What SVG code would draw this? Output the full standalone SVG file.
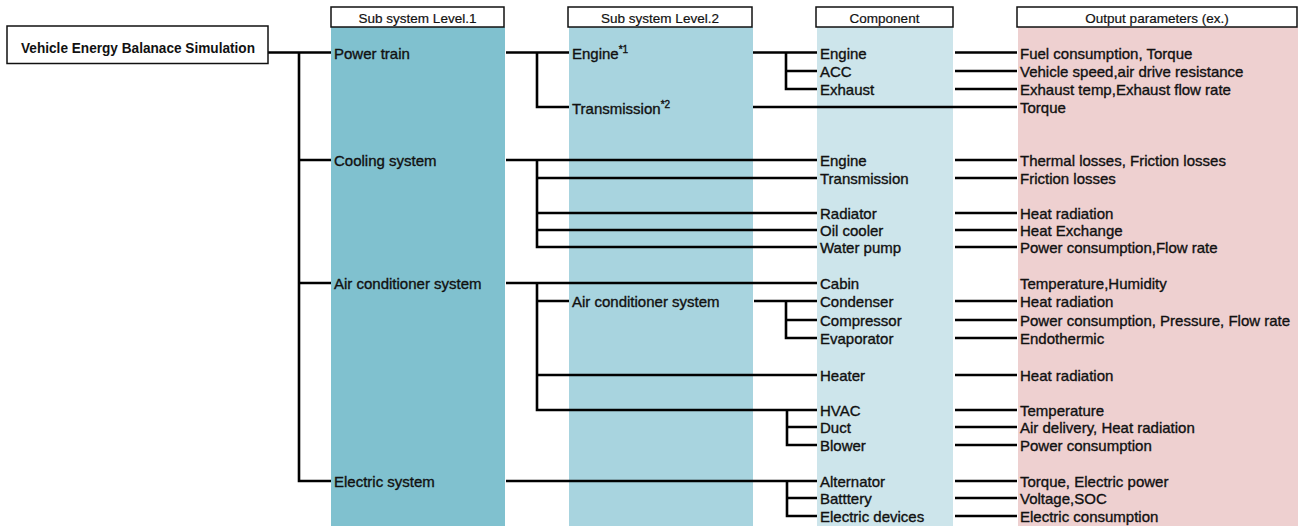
<svg xmlns="http://www.w3.org/2000/svg" width="1303" height="527" viewBox="0 0 1303 527">
<style>
.t{font-family:"Liberation Sans",Arial,sans-serif;font-size:15px;fill:#111;stroke:#111;stroke-width:0.35}
.h{font-family:"Liberation Sans",Arial,sans-serif;font-size:13.5px;fill:#111;stroke:#111;stroke-width:0.2;text-anchor:middle}
.hb{fill:#fff;stroke:#111;stroke-width:1.5}
.c{stroke:#000;stroke-width:2.6;fill:none;stroke-linecap:butt}
</style>
<rect width="1303" height="527" fill="#fff"/>
<g id="columns">
<rect x="331" y="27" width="174" height="499" fill="#80c1cf"/>
<rect x="569" y="27" width="184" height="499" fill="#a8d4df"/>
<rect x="817" y="27" width="136" height="499" fill="#cde5eb"/>
<rect x="1018" y="27" width="280" height="499" fill="#eed0d0"/>
</g>
<g id="headers">
<g id="h1"><rect class="hb" x="331" y="7" width="173" height="20"/><text class="h" x="417.5" y="22.5">Sub system Level.1</text></g>
<g id="h2"><rect class="hb" x="568" y="7" width="184" height="20"/><text class="h" x="660" y="22.5">Sub system Level.2</text></g>
<g id="h3"><rect class="hb" x="816" y="7" width="137" height="20"/><text class="h" x="884.5" y="22.5">Component</text></g>
<g id="h4"><rect class="hb" x="1017" y="7" width="280" height="20"/><text class="h" x="1157" y="22.5">Output parameters (ex.)</text></g>
</g>
<g id="connectors">
<path class="c" d="M268 52.5H331M299 52.5V481H331M299 160H331M299 283H331"/>
<path class="c" d="M506 52.5H569M537 52.5V107H569M753 52.5H817M786 52.5V89H817M786 71H817M753 107H1017"/>
<path class="c" d="M506 160H817M537 160V247H817M537 178H817M537 213H817M537 230H817"/>
<path class="c" d="M506 283H817M537 283V410H817M537 301H569M537 375H817M754 301H817M786 301V338H817M786 320H817M787 410V445H817M787 427H817"/>
<path class="c" d="M506 481H817M787 481V516H817M787 498H817"/>
<path class="c" d="M955 52.5H1017M955 71H1017M955 89H1017M955 160H1017M955 178H1017M955 213H1017M955 230H1017M955 247H1017M955 301H1017M955 320H1017M955 338H1017M955 375H1017M955 410H1017M955 427H1017M955 445H1017M955 481H1017M955 498H1017M955 516H1017"/>
</g>
<g id="root"><rect class="hb" x="7" y="26" width="261" height="37.5"/><text class="t" x="21" y="53" textLength="234" lengthAdjust="spacingAndGlyphs" style="font-size:15.5px;font-weight:bold;stroke-width:0">Vehicle Energy Balanace Simulation</text></g>
<g id="level1">
<g id="l1-powertrain"><text class="t" x="334" y="59">Power train</text></g>
<g id="l1-cooling"><text class="t" x="334" y="166">Cooling system</text></g>
<g id="l1-ac"><text class="t" x="334" y="289">Air conditioner system</text></g>
<g id="l1-electric"><text class="t" x="334" y="487">Electric system</text></g>
</g>
<g id="level2">
<g id="l2-engine"><text class="t" x="572" y="59">Engine<tspan font-size="10" dy="-6">*1</tspan></text></g>
<g id="l2-transmission"><text class="t" x="572" y="114">Transmission<tspan font-size="10" dy="-6">*2</tspan></text></g>
<g id="l2-ac"><text class="t" x="572" y="307">Air conditioner system</text></g>
</g>
<g id="components">
<g id="c-engine"><text class="t" x="820" y="59">Engine</text></g>
<g id="c-acc"><text class="t" x="820" y="77">ACC</text></g>
<g id="c-exhaust"><text class="t" x="820" y="95">Exhaust</text></g>
<g id="c-engine2"><text class="t" x="820" y="166">Engine</text></g>
<g id="c-transmission"><text class="t" x="820" y="184">Transmission</text></g>
<g id="c-radiator"><text class="t" x="820" y="219">Radiator</text></g>
<g id="c-oilcooler"><text class="t" x="820" y="236">Oil cooler</text></g>
<g id="c-waterpump"><text class="t" x="820" y="253">Water pump</text></g>
<g id="c-cabin"><text class="t" x="820" y="289">Cabin</text></g>
<g id="c-condenser"><text class="t" x="820" y="307">Condenser</text></g>
<g id="c-compressor"><text class="t" x="820" y="326">Compressor</text></g>
<g id="c-evaporator"><text class="t" x="820" y="344">Evaporator</text></g>
<g id="c-heater"><text class="t" x="820" y="381">Heater</text></g>
<g id="c-hvac"><text class="t" x="820" y="416">HVAC</text></g>
<g id="c-duct"><text class="t" x="820" y="433">Duct</text></g>
<g id="c-blower"><text class="t" x="820" y="451">Blower</text></g>
<g id="c-alternator"><text class="t" x="820" y="487"> Alternator</text></g>
<g id="c-battery"><text class="t" x="820" y="504">Batttery</text></g>
<g id="c-devices"><text class="t" x="820" y="522">Electric devices</text></g>
</g>
<g id="outputs">
<g id="o1"><text class="t" x="1020" y="59">Fuel consumption, Torque</text></g>
<g id="o2"><text class="t" x="1020" y="77">Vehicle speed,air drive resistance</text></g>
<g id="o3"><text class="t" x="1020" y="95">Exhaust temp,Exhaust flow rate</text></g>
<g id="o4"><text class="t" x="1020" y="113">Torque</text></g>
<g id="o5"><text class="t" x="1020" y="166">Thermal losses, Friction losses</text></g>
<g id="o6"><text class="t" x="1020" y="184">Friction losses</text></g>
<g id="o7"><text class="t" x="1020" y="219">Heat radiation</text></g>
<g id="o8"><text class="t" x="1020" y="236">Heat Exchange</text></g>
<g id="o9"><text class="t" x="1020" y="253">Power consumption,Flow rate</text></g>
<g id="o10"><text class="t" x="1020" y="289">Temperature,Humidity</text></g>
<g id="o11"><text class="t" x="1020" y="307">Heat radiation</text></g>
<g id="o12"><text class="t" x="1020" y="326">Power consumption, Pressure, Flow rate</text></g>
<g id="o13"><text class="t" x="1020" y="344">Endothermic</text></g>
<g id="o14"><text class="t" x="1020" y="381">Heat radiation</text></g>
<g id="o15"><text class="t" x="1020" y="416">Temperature</text></g>
<g id="o16"><text class="t" x="1020" y="433">Air delivery, Heat radiation</text></g>
<g id="o17"><text class="t" x="1020" y="451">Power consumption</text></g>
<g id="o18"><text class="t" x="1020" y="487">Torque, Electric power</text></g>
<g id="o19"><text class="t" x="1020" y="504">Voltage,SOC</text></g>
<g id="o20"><text class="t" x="1020" y="522">Electric consumption</text></g>
</g>
</svg>
